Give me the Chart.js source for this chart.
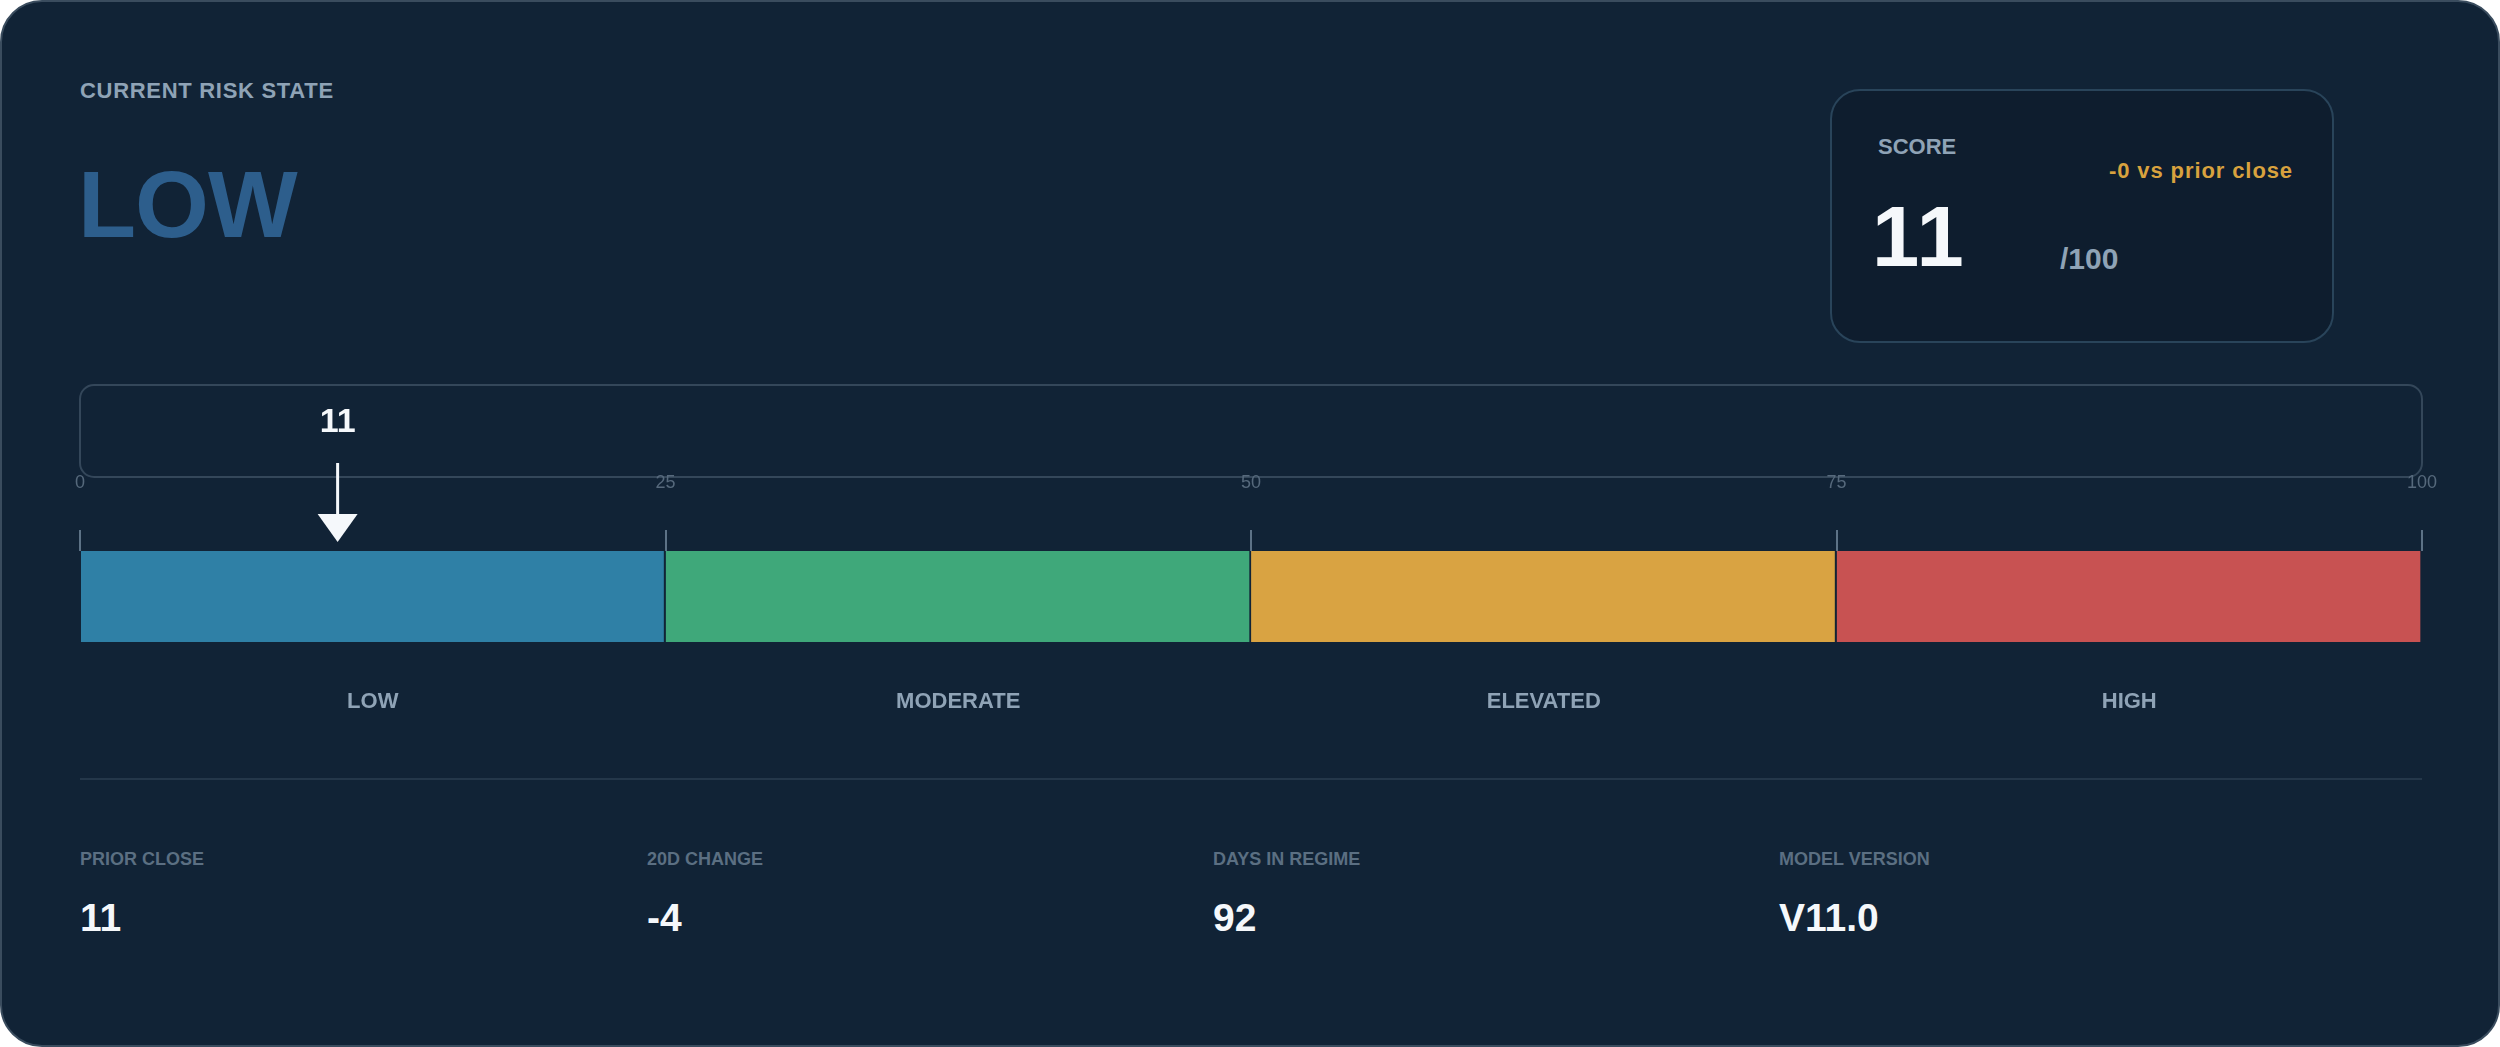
<!DOCTYPE html>
<html>
<head>
<meta charset="utf-8">
<script src="https://cdn.jsdelivr.net/npm/chart.js@4.4.1/dist/chart.umd.min.js"></script>
<style>
  html, body { margin:0; padding:0; background:#ffffff; }
  body { width:2500px; height:1047px; position:relative; overflow:hidden; font-family:"Liberation Sans", Arial, sans-serif; }
  #card { position:absolute; left:0; top:0; width:2496px; height:1043px; background:#112336; border:2px solid #3a4c5e; border-radius:42px; }
  .t { position:absolute; line-height:1; white-space:nowrap; font-weight:700; }
  #scorebox { position:absolute; left:1830px; top:89px; width:500px; height:250px; background:#0e1d2e; border:2px solid #29445a; border-radius:30px; }
  #divider { position:absolute; left:80px; top:778px; width:2342px; height:2px; background:#24374a; }
  #gauge { position:absolute; left:0; top:0; }
</style>
</head>
<body>
<div id="card"></div>
<div class="t" style="left:80px; top:80px; font-size:22px; color:#8fa3b6; letter-spacing:0.7px;">CURRENT RISK STATE</div>
<div class="t" id="stateText" style="left:78px; top:157px; font-size:95px; color:#2d5e8c; letter-spacing:-1px;"></div>
<div id="scorebox"></div>
<div class="t" style="left:1878px; top:136px; font-size:22px; color:#8fa3b6;">SCORE</div>
<div class="t" id="deltaText" style="right:207px; top:160px; font-size:22px; color:#d8a23e; letter-spacing:0.9px;"></div>
<div class="t" id="scoreText" style="left:1872px; top:194px; font-size:85px; color:#f5f8fb; letter-spacing:2px;"></div>
<div class="t" id="maxText" style="left:2060px; top:244px; font-size:30px; color:#8fa3b6;"></div>
<div id="divider"></div>
<div id="stats"></div>
<canvas id="gauge" width="2500" height="1047"></canvas>
<script>
// ---- data ----
const bandLabels = ['LOW', 'MODERATE', 'ELEVATED', 'HIGH'];
const bandWidths = [25, 25, 25, 25];
const bandColors = ['#2f80a6', '#3fa87a', '#d9a342', '#c85252'];
const tickValues = [0, 25, 50, 75, 100];
const score = 11;
const scoreMax = 100;
const currentState = 'LOW';
const deltaVsPrior = '-0';
const statLabels = ['PRIOR CLOSE', '20D CHANGE', 'DAYS IN REGIME', 'MODEL VERSION'];
const statValues = ['11', '-4', '92', 'V11.0'];

// ---- text ----
document.getElementById('stateText').textContent = currentState;
document.getElementById('deltaText').textContent = deltaVsPrior + ' vs prior close';
document.getElementById('scoreText').textContent = String(score);
document.getElementById('maxText').textContent = '/' + scoreMax;
const statX = [80, 647, 1213, 1779];
const stats = document.getElementById('stats');
statLabels.forEach((l, i) => {
  const a = document.createElement('div');
  a.className = 't';
  a.style.cssText = `left:${statX[i]}px; top:850px; font-size:18px; color:#5b6f82;`;
  a.textContent = l;
  stats.appendChild(a);
  const b = document.createElement('div');
  b.className = 't';
  b.style.cssText = `left:${statX[i]}px; top:898px; font-size:39px; color:#f5f8fb;`;
  b.textContent = statValues[i];
  stats.appendChild(b);
});

// ---- chart ----
const gaugePlugin = {
  id: 'gaugeDecor',
  beforeDraw(chart) {
    const ctx = chart.ctx;
    const xs = chart.scales.x;
    const ca = chart.chartArea;
    const x0 = xs.getPixelForValue(0), x1 = xs.getPixelForValue(scoreMax);
    const top = ca.top - 166, bot = ca.top - 74, r = 14;
    ctx.save();
    ctx.strokeStyle = '#34475a';
    ctx.lineWidth = 2;
    ctx.beginPath();
    ctx.roundRect(x0, top, x1 - x0, bot - top, r);
    ctx.stroke();
    ctx.restore();
  },
  afterDraw(chart) {
    const ctx = chart.ctx;
    const xs = chart.scales.x;
    const ca = chart.chartArea;
    ctx.save();
    // band labels
    ctx.font = 'bold 22px "Liberation Sans", Arial, sans-serif';
    ctx.fillStyle = '#8fa3b6';
    ctx.textAlign = 'center';
    ctx.textBaseline = 'middle';
    let acc = 0;
    bandLabels.forEach((l, i) => {
      const mid = acc + bandWidths[i] / 2;
      acc += bandWidths[i];
      ctx.fillText(l, xs.getPixelForValue(mid), ca.bottom + 60);
    });
    // marker
    const mx = xs.getPixelForValue(score);
    ctx.fillStyle = '#f5f8fb';
    ctx.font = 'bold 34px "Liberation Sans", Arial, sans-serif';
    ctx.fillText(String(score), mx, ca.top - 128);
    ctx.strokeStyle = '#f5f8fb';
    ctx.lineWidth = 3;
    ctx.beginPath();
    ctx.moveTo(mx, ca.top - 88);
    ctx.lineTo(mx, ca.top - 36);
    ctx.stroke();
    ctx.beginPath();
    ctx.moveTo(mx - 20, ca.top - 37);
    ctx.lineTo(mx + 20, ca.top - 37);
    ctx.lineTo(mx, ca.top - 9);
    ctx.closePath();
    ctx.fill();
    ctx.restore();
  }
};

new Chart(document.getElementById('gauge'), {
  type: 'bar',
  data: {
    labels: ['score'],
    datasets: bandLabels.map((l, i) => ({
      label: l,
      data: [bandWidths[i]],
      backgroundColor: bandColors[i],
      borderColor: '#112336',
      borderWidth: { left: 0, right: 2, top: 0, bottom: 0 },
      borderSkipped: false,
      barPercentage: 1,
      categoryPercentage: 1
    }))
  },
  options: {
    indexAxis: 'y',
    responsive: false,
    animation: false,
    devicePixelRatio: 1,
    layout: { padding: { left: 80, right: 78, top: 460, bottom: 405 } },
    plugins: { legend: { display: false }, tooltip: { enabled: false } },
    scales: {
      x: {
        position: 'top',
        stacked: true,
        min: 0,
        max: scoreMax,
        afterBuildTicks: (axis) => { axis.ticks = tickValues.map(v => ({ value: v })); },
        ticks: { color: '#56697c', font: { size: 18, family: '"Liberation Sans", Arial, sans-serif' }, padding: 36, maxRotation: 0, autoSkip: false },
        grid: { drawOnChartArea: false, drawTicks: true, tickLength: 21, color: '#5d7286', lineWidth: 2 },
        border: { display: false }
      },
      y: { stacked: true, display: false }
    }
  },
  plugins: [gaugePlugin]
});
</script>
</body>
</html>
